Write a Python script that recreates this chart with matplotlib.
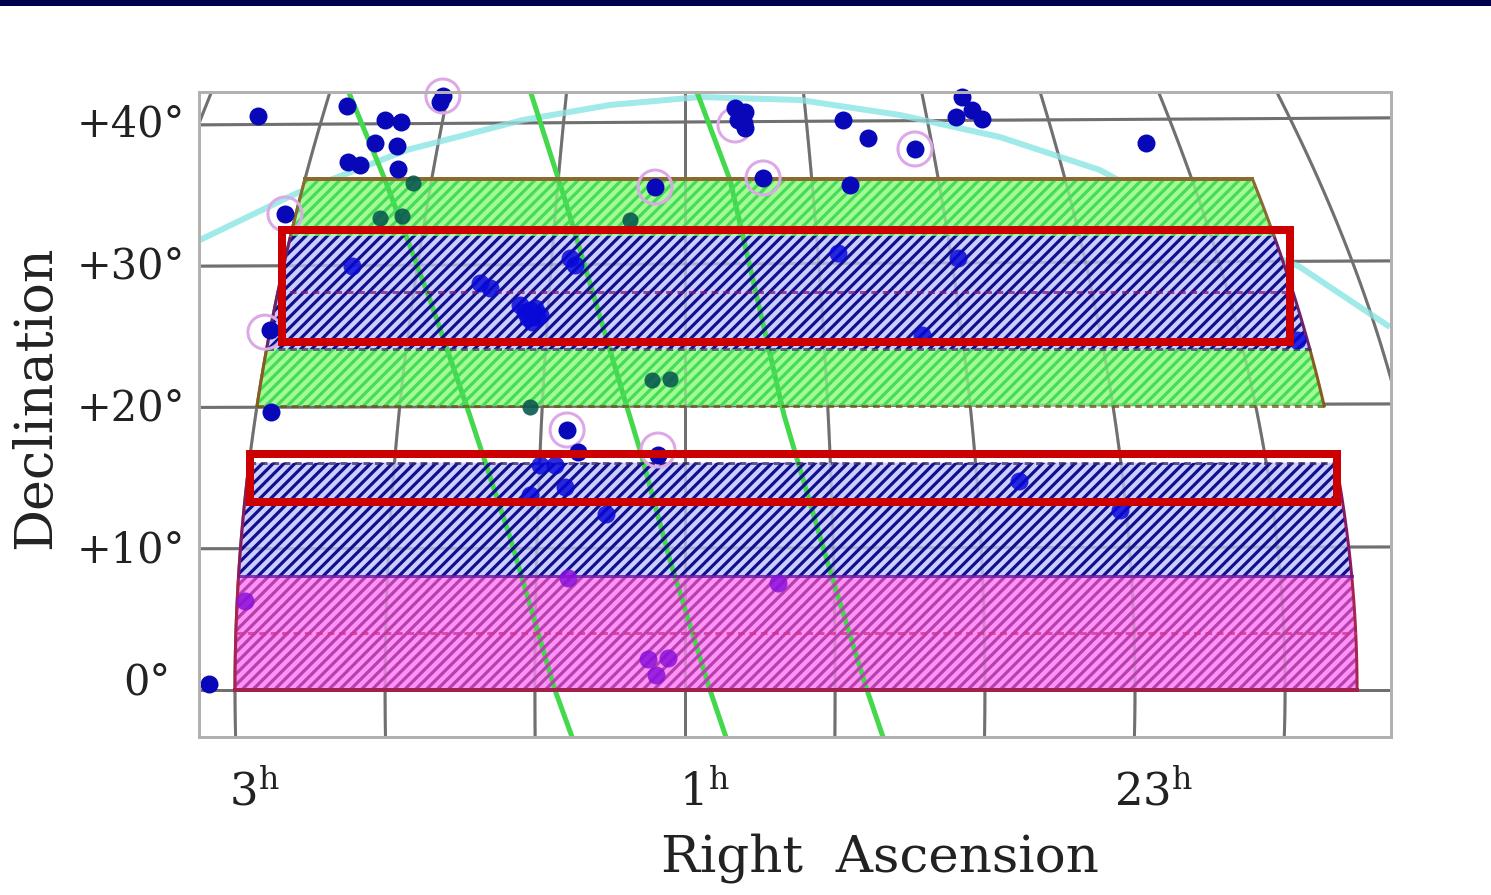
import numpy as np
import matplotlib
matplotlib.use("Agg")
import matplotlib.pyplot as plt
from matplotlib.patches import Rectangle
from matplotlib.transforms import ScaledTranslation

DPI = 130
PX = 72 / DPI
plt.rcParams['font.family'] = ['DejaVu Serif']
plt.rcParams['mathtext.fontset'] = 'dejavuserif'
plt.rcParams['hatch.linewidth'] = 3.2 * PX

# survey bands: dec low, dec high, fill, hatch, edge
band_low = [0, 8, 20, 24, 32]
band_high = [8, 16, 24, 32, 36]
band_face = ['#ff92f6', '#ccceff', '#a4fb94', '#ccceff', '#a4fb94']
band_hatch = ['#b840ae', '#10108c', '#44dc58', '#10108c', '#44dc58']
band_edge = ['#a8244e', '#8a1a60', '#8a5a20', '#70206a', '#8a6a30']
ra_east = 3.0
ra_west = -1.987

# inner dashed declination lines
dash_dec = [4, 16, 20, 24, 28]
dash_col = ['#d8308c', '#402860', '#6a5a10', '#403a60', '#7a1a7a']

# selected fields (RA hours, Dec degrees)
field_ra = [(2.789, -1.689), (2.933, -1.898)]
field_dec = [(24.51, 32.39), (13.27, 16.62)]

# galaxies seen on white background
gal_ra = [2.898, 2.502, 2.076, 2.09, 2.333, 2.262, 2.378, 2.28, 2.498, 2.444, 2.276, 2.778, 2.844, 2.84,
          3.116, 1.133, 0.653, 0.267, -0.022, 0.298, 0.187, -0.231, -0.204, -0.276, -0.32, -1.049,
          0.778, 0.733, 0.764, 0.733, 0.76, 0.74, 1.524, 1.476, 1.12]
gal_dec = [40.42, 41.13, 41.83, 41.4, 40.14, 40.0, 38.52, 38.31, 37.18, 36.97, 36.69, 33.52, 25.35, 19.58,
           0.42, 35.42, 36.06, 35.56, 38.1, 40.14, 38.87, 41.76, 40.35, 40.85, 40.21, 38.52,
           40.99, 40.7, 40.14, 39.58, 40.6, 39.9, 18.31, 16.76, 16.55]
# galaxies in blue bands
blue_ra = [2.48, 1.911, 1.867, 1.733, 1.689, 1.644, 1.698, 1.667, 1.66, 1.71, 1.68, 1.511, 1.49, 0.32, -0.213, -0.053, -1.72,
           1.644, 1.578, 1.533, 1.689, 1.351, -0.484, -0.933]
blue_dec = [29.86, 28.66, 28.31, 27.11, 26.76, 26.41, 26.2, 26.9, 26.3, 26.6, 25.9, 30.42, 29.9, 30.77, 30.42, 25.0, 24.65,
            15.85, 15.85, 14.3, 13.73, 12.39, 14.72, 12.68]
# galaxies in green bands / at their rim
green_ra = [2.356, 2.258, 1.244, 1.147, 1.067, 1.689, 2.209]
green_dec = [33.24, 33.38, 33.1, 21.83, 21.9, 19.93, 35.7]
# galaxies in magenta band
pink_ra = [2.956, 1.52, 0.587, 1.164, 1.076, 1.129]
pink_dec = [6.27, 7.89, 7.54, 2.18, 2.25, 1.06]
# ringed objects
ring_ra = [2.076, 2.778, 2.867, 1.133, 0.653, -0.022, 0.778, 1.524, 1.12]
ring_dec = [41.83, 33.52, 25.2, 35.42, 36.06, 38.1, 39.79, 18.31, 16.9]

# green slanted lines
line1_ra = [2.502, 2.333, 2.133, 1.969, 1.778, 1.578, 1.502]
line1_dec = [42.39, 35.92, 27.46, 19.93, 10.77, 0, -3.31]
line2_ra = [1.689, 1.533, 1.258, 1.2, 1.067, 0.889, 0.818]
line2_dec = [42.25, 34.51, 19.93, 16.9, 9.15, 0, -3.31]
line3_ra = [0.947, 0.8, 0.56, 0.356, 0.191, 0.12]
line3_dec = [42.11, 35.92, 19.37, 8.45, 0, -3.31]

# cyan curve
plane_ra = [3.156, 2.724, 2.236, 1.72, 1.333, 0.933, 0.489, 0.044, -0.4, -0.844, -1.289, -1.733, -2.133]
plane_dec = [31.69, 35.0, 38.03, 40.14, 41.2, 41.76, 41.55, 40.49, 38.94, 36.62, 32.75, 29.79, 25.56]

# graticule
grid_ra = [3.667, 3.0, 2.333, 1.667, 1.0, 0.333, -0.333, -1.0, -1.667, -2.333]
grid_dec = [0, 10, 20, 30, 40]
tick_ra = [3, 1, -1]
tick_ra_labels = [r'$\mathregular{3^h}$', r'$\mathregular{1^h}$', r'$\mathregular{23^h}$']
tick_dec = [0, 10, 20, 30, 40]
tick_dec_labels = ['0°', '+10°', '+20°', '+30°', '+40°']


def project(ra, dec):
    return 1 + (np.asarray(ra, float) - 1) * np.cos(np.radians(0.9 * np.asarray(dec, float)))


W, H = 1491, 895
fig = plt.figure(figsize=(W / DPI, H / DPI), dpi=DPI, facecolor='white')
ax = fig.add_axes([199 / W, 1 - 737 / H, (1391 - 199) / W, (737 - 92) / H])
ax.set_xlim(1 + 486 / 225, 1 - 706 / 225)
ax.set_ylim((690 - 737) / 14.2, (690 - 92) / 14.2)
for s in ax.spines.values():
    s.set_color('#b4b0b0')
    s.set_linewidth(3 * PX)
    s.set_zorder(8)


def draw_grid(z, alpha):
    for r in grid_ra:
        d = np.linspace(-4, 44, 60)
        ax.plot(project(r, d), d, color='#707070', lw=3 * PX, alpha=alpha, zorder=z)
    for d0 in grid_dec:
        r = np.linspace(-3, 4, 40)
        x = project(r, d0)
        ax.plot(x, d0 + (1 - x) * 0.093 * d0 / 40, color='#707070', lw=3 * PX, alpha=alpha, zorder=z)


draw_grid(0.5, 1.0)
ax.plot(plane_ra, plane_dec, color='#a0eaea', lw=6 * PX, zorder=0.7, solid_capstyle='butt')

# band fills
for lo, hi, fc in zip(band_low, band_high, band_face):
    d = np.linspace(lo, hi, 20)
    ax.fill(np.r_[project(ra_east, d), project(ra_west, d[::-1])], np.r_[d, d[::-1]],
            facecolor=fc, edgecolor='none', zorder=1)
draw_grid(1.5, 0.3)

# lines under the hatch
for lr, ld in [(line1_ra, line1_dec), (line2_ra, line2_dec), (line3_ra, line3_dec)]:
    ax.plot(lr, ld, color='#44d84c', lw=5 * PX, zorder=2, solid_capstyle='butt')

# hatch overlays and outlines
for lo, hi, hc, ec in zip(band_low, band_high, band_hatch, band_edge):
    d = np.linspace(lo, hi, 20)
    xs = np.r_[project(ra_east, d), project(ra_west, d[::-1])]
    ys = np.r_[d, d[::-1]]
    ax.fill(xs, ys, facecolor='none', edgecolor=hc, hatch='////', linewidth=0, zorder=3)
    ax.plot(project(ra_east, d), d, color=ec, lw=3 * PX, zorder=3.5)
    ax.plot(project(ra_west, d), d, color=ec, lw=3 * PX, zorder=3.5)

# points above the hatch
ms = (18 * PX) ** 2
ax.scatter(ring_ra, ring_dec, s=(34 * PX) ** 2, facecolor='none', edgecolor='#dca8e6', lw=3 * PX, zorder=3.7,
           clip_on=False)
ax.scatter(gal_ra, gal_dec, s=ms, color='#0808b8', lw=0, zorder=3.8, clip_on=False)
ax.scatter(blue_ra, blue_dec, s=ms, color='#0808d8', alpha=0.85, lw=0, zorder=3.8)
ax.scatter(green_ra, green_dec, s=ms * 0.8, color='#0a5a50', alpha=0.9, lw=0, zorder=3.8)
ax.scatter(pink_ra, pink_dec, s=ms, color='#8c10dc', alpha=0.85, lw=0, zorder=3.8)

# top and bottom rims, dashed internals
ax.plot(project([ra_east, ra_west], 36), [36, 36], color='#8a6a30', lw=4 * PX, zorder=3.6)
ax.plot(project([ra_east, ra_west], 0), [0, 0], color='#a0204e', lw=4 * PX, zorder=3.6)
ax.plot(project([ra_east, ra_west], 8), [8, 8], color='#6a14a0', lw=3 * PX, alpha=0.8, zorder=3.6)
for d0, c in zip(dash_dec, dash_col):
    ax.plot(project([ra_east, ra_west], d0), [d0, d0], color=c, lw=3 * PX, ls=(0, (2.2, 1.6)),
            alpha=0.75, zorder=3.6)

# red selection frames
for (r1, r2), (d1, d2) in zip(field_ra, field_dec):
    ax.add_patch(Rectangle((r1, d1), r2 - r1, d2 - d1, facecolor='none', edgecolor='#cc0000',
                           lw=8 * PX, joinstyle='miter', zorder=6))

# axes text
ax.set_xticks(tick_ra, tick_ra_labels)
ax.set_yticks(tick_dec, tick_dec_labels)
ax.tick_params(length=0, colors='#222222')
ax.tick_params(axis='x', labelsize=25, pad=33 * PX)
ax.tick_params(axis='y', labelsize=23, pad=14 * PX)
shift = ScaledTranslation(19 / DPI, 0, fig.dpi_scale_trans)
for lab in ax.get_xticklabels():
    lab.set_transform(lab.get_transform() + shift)
up = ScaledTranslation(0, 2 / DPI, fig.dpi_scale_trans)
for lab in ax.get_yticklabels():
    if lab.get_text() == '0°':
        lab.set_transform(lab.get_transform() + ScaledTranslation(-15 / DPI, 12 / DPI, fig.dpi_scale_trans))
    else:
        lab.set_transform(lab.get_transform() + up)

ax.set_xlabel('Right  Ascension', fontsize=28.5, color='#222222', va='center')
ax.xaxis.set_label_coords((880 - 199) / 1192, -(858 - 737) / 645)
ax.set_ylabel('Declination', fontsize=29, color='#222222', va='center')
ax.yaxis.set_label_coords(-(199 - 36) / 1192, (737 - 397) / 645)

# top navy bar
fig.add_artist(Rectangle((0, 1 - 5.5 / H), 1, 5.5 / H, transform=fig.transFigure, color='#000050', lw=0))

fig.savefig('out.png', dpi=DPI)
